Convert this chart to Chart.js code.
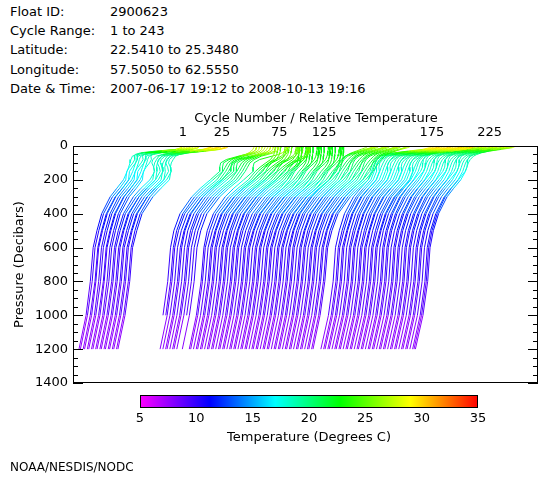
<!DOCTYPE html>
<html>
<head>
<meta charset="utf-8">
<script src="https://cdn.jsdelivr.net/npm/chart.js@4.4.1/dist/chart.umd.min.js"></script>
<style>
  body { margin: 0; background: #fff; font-family: 'DejaVu Sans', sans-serif; color: #000; }
  #page { position: relative; width: 560px; height: 480px; overflow: hidden; }
  .row { position: absolute; left: 10px; height: 16px; line-height: 16px; font-size: 13px; white-space: nowrap; }
  .row span { position: absolute; left: 100px; }
  #xtitle { position: absolute; top: 110px; left: 316px; transform: translateX(-50%); font-size: 13px; line-height: 16px; white-space: nowrap; }
  #footer { position: absolute; left: 10px; top: 459px; font-size: 12px; line-height: 16px; }
  canvas { position: absolute; left: 0; }
</style>
</head>
<body>
<div id="page">
  <div class="row" style="top:4px">Float ID:<span>2900623</span></div>
  <div class="row" style="top:23px">Cycle Range:<span>1 to 243</span></div>
  <div class="row" style="top:42px">Latitude:<span>22.5410 to 25.3480</span></div>
  <div class="row" style="top:62px">Longitude:<span>57.5050 to 62.5550</span></div>
  <div class="row" style="top:81px">Date &amp; Time:<span>2007-06-17 19:12 to 2008-10-13 19:16</span></div>
  <canvas id="profiles" width="560" height="480" style="top:0"></canvas>
  <div id="xtitle">Cycle Number / Relative Temperature</div>
  <canvas id="scalebar" width="560" height="70" style="top:385px"></canvas>
  <div id="footer">NOAA/NESDIS/NODC</div>
</div>
<script>
// pressure levels (dbar) of the profiles
const PRESSURE = [0, 10, 20, 30, 40, 50, 60, 80, 100, 125, 150, 200, 250, 300, 400, 500, 600, 800, 1000, 1200];

// typical temperature profiles (deg C), two per season
const T_JUN07_A = [29.0, 28.7, 27.5, 24.5, 21.0, 19.2, 18.3, 18.0, 17.8, 17.5, 17.2, 16.4, 15.0, 13.6, 11.8, 10.8, 10.0, 9.4, 8.5, 7.0];
const T_JUN07_B = [28.6, 28.4, 27.2, 23.0, 19.8, 18.6, 18.4, 18.5, 18.1, 17.4, 16.8, 16.6, 15.3, 13.8, 11.9, 10.9, 10.1, 9.5, 8.5, 7.0];
const T_JUL07_A = [30.2, 29.8, 28.4, 25.2, 21.8, 20.0, 19.2, 18.7, 18.3, 18.1, 18.2, 17.9, 16.1, 14.4, 12.1, 11.0, 10.1, 9.5, 8.5, 7.0];
const T_JUL07_B = [30.8, 30.3, 29.0, 26.0, 22.4, 20.3, 19.0, 18.2, 18.0, 18.4, 18.6, 17.6, 15.7, 14.1, 12.0, 10.9, 10.1, 9.5, 8.5, 7.0];
const T_OCT07_A = [27.6, 27.5, 27.4, 27.1, 26.4, 25.2, 23.8, 22.3, 21.4, 20.9, 20.4, 19.1, 16.9, 15.0, 12.3, 11.0, 10.2, 9.6, 8.6, 7.1];
const T_OCT07_B = [27.9, 27.8, 27.6, 27.3, 26.8, 26.0, 24.6, 22.0, 20.8, 20.6, 20.6, 18.6, 16.5, 14.7, 12.2, 10.9, 10.2, 9.6, 8.6, 7.1];
const T_DEC07_A = [25.0, 25.0, 24.9, 24.9, 24.8, 24.7, 24.5, 24.0, 23.0, 21.8, 20.8, 19.3, 17.1, 15.1, 12.4, 11.1, 10.2, 9.6, 8.6, 7.1];
const T_DEC07_B = [25.6, 25.6, 25.5, 25.5, 25.4, 25.2, 24.8, 23.6, 22.2, 21.4, 20.9, 18.9, 16.7, 14.9, 12.3, 11.0, 10.2, 9.6, 8.6, 7.1];
const T_FEB08_A = [22.4, 22.4, 22.4, 22.4, 22.4, 22.3, 22.3, 22.2, 22.0, 21.4, 20.6, 19.3, 17.2, 15.2, 12.5, 11.1, 10.2, 9.6, 8.6, 7.1];
const T_FEB08_B = [23.0, 23.0, 23.0, 22.9, 22.9, 22.8, 22.7, 22.4, 21.8, 20.8, 20.0, 19.0, 17.5, 15.4, 12.6, 11.2, 10.2, 9.6, 8.6, 7.1];
const T_APR08_A = [27.0, 26.5, 25.5, 24.5, 23.5, 22.8, 22.3, 21.6, 21.0, 20.4, 19.8, 18.8, 16.8, 15.0, 12.4, 11.1, 10.2, 9.6, 8.6, 7.1];
const T_APR08_B = [28.2, 27.4, 26.0, 24.8, 23.6, 22.6, 21.8, 21.0, 20.6, 20.3, 20.0, 18.5, 16.5, 14.8, 12.3, 11.0, 10.2, 9.6, 8.6, 7.1];
const T_JUN08_A = [30.5, 30.0, 28.5, 25.5, 22.5, 20.5, 19.5, 18.8, 18.4, 18.0, 17.7, 17.0, 15.4, 13.9, 12.0, 10.9, 10.1, 9.6, 8.6, 7.0];
const T_JUN08_B = [31.0, 30.4, 28.8, 26.0, 23.2, 21.0, 19.6, 18.6, 18.0, 17.8, 17.9, 17.2, 15.6, 14.0, 12.1, 11.0, 10.1, 9.6, 8.6, 7.0];
const T_AUG08_A = [28.0, 27.0, 24.5, 22.5, 21.0, 20.0, 19.3, 18.6, 18.2, 17.9, 17.6, 16.6, 15.1, 13.7, 11.9, 10.8, 10.1, 9.6, 8.6, 7.0];
const T_AUG08_B = [28.6, 27.8, 25.5, 23.0, 21.0, 19.6, 18.8, 18.4, 18.3, 18.2, 17.8, 16.4, 14.9, 13.6, 11.9, 10.8, 10.1, 9.6, 8.6, 7.0];

// first cycle of each season; odd cycles use the A profile, even cycles the B profile
const SEASON_START = [1, 16, 50, 81, 106, 141, 172, 206];
const SEASON_A = [T_JUN07_A, T_JUL07_A, T_OCT07_A, T_DEC07_A, T_FEB08_A, T_APR08_A, T_JUN08_A, T_AUG08_A];
const SEASON_B = [T_JUN07_B, T_JUL07_B, T_OCT07_B, T_DEC07_B, T_FEB08_B, T_APR08_B, T_JUN08_B, T_AUG08_B];

// cycles that have a profile in the plot
const CYCLES = [
  1, 2, 4, 5, 7, 8, 10, 11, 13, 14, 16, 17, 19, 20, 22, 23, 25, 26, 28, 29,
  56, 58, 59, 61, 63, 64, 66, 68, 69, 71, 73, 75,
  80, 81, 83, 85, 86, 88, 89, 91, 93, 94, 96, 97, 99, 101, 102, 104, 105, 107, 109, 110,
  112, 113, 115, 117, 118, 120, 121, 123, 125, 126, 128, 129, 131, 133, 134, 136, 137, 139,
  141, 142, 144, 145, 147, 149, 150, 152, 153, 155, 157, 158, 160, 161, 163, 165, 166, 168, 169,
  175, 177, 178, 180, 181, 183, 185, 186, 188, 189, 191, 193, 194, 196, 197, 199, 201, 202,
  204, 205, 207, 209, 210, 212, 213, 215, 217, 218, 220, 221, 223, 225, 226, 228, 229, 231,
  233, 234, 236, 237, 239, 241, 242, 243
];
// profiles that stop before 1200 dbar
const SHORT_CYCLES = [56, 58, 73];
const SHORT_MAX_P = [1000, 1000, 1000];

// top axis labels
const TICK_CYCLES = [1, 25, 75, 125, 175, 225];

// colour table of the temperature bar
const STOP_TEMPS = [5, 11.2, 17, 22.8, 29, 35];
const STOP_RGB = [[255, 0, 255], [0, 0, 255], [0, 255, 255], [0, 255, 0], [255, 255, 0], [255, 0, 0]];

const TEMP_SCALE = 3.4;   // cycles per degree
const TEMP_REF = 7;

function profileFor(c) {
  let k = 0;
  for (let i = 0; i < SEASON_START.length; i++) if (c >= SEASON_START[i]) k = i;
  return c % 2 === 1 ? SEASON_A[k] : SEASON_B[k];
}
function xOf(c, t) { return c + TEMP_SCALE * (t - TEMP_REF); }

function tempColor(t) {
  if (t <= STOP_TEMPS[0]) return 'rgb(' + STOP_RGB[0].join(',') + ')';
  for (let i = 1; i < STOP_TEMPS.length; i++) {
    if (t <= STOP_TEMPS[i]) {
      const f = (t - STOP_TEMPS[i - 1]) / (STOP_TEMPS[i] - STOP_TEMPS[i - 1]);
      const a = STOP_RGB[i - 1], b = STOP_RGB[i];
      return 'rgb(' + [0, 1, 2].map(j => Math.round(a[j] + (b[j] - a[j]) * f)).join(',') + ')';
    }
  }
  return 'rgb(' + STOP_RGB[STOP_RGB.length - 1].join(',') + ')';
}

const datasets = CYCLES.map(c => {
  const temps = profileFor(c);
  const s = SHORT_CYCLES.indexOf(c);
  const maxP = s >= 0 ? SHORT_MAX_P[s] : 1200;
  const data = [];
  PRESSURE.forEach((p, i) => {
    if (p <= maxP) data.push({ x: xOf(c, temps[i]), y: p, t: temps[i] });
  });
  return {
    label: 'Cycle ' + c,
    data: data,
    borderWidth: 1,
    pointRadius: 0,
    tension: 0,
    borderColor: tempColor(temps[0]),
    segment: {
      borderColor: ctx => tempColor((data[ctx.p0DataIndex].t + data[ctx.p1DataIndex].t) / 2)
    }
  };
});

// box and inward ticks
const framePlugin = {
  id: 'frame',
  afterDatasetsDraw(chart) {
    const { ctx, chartArea: a, scales: { y } } = chart;
    ctx.save();
    ctx.strokeStyle = '#000';
    ctx.lineWidth = 1;
    ctx.strokeRect(a.left + 0.5, a.top + 0.5, a.width - 1, a.height - 1);
    ctx.beginPath();
    for (let p = 0; p <= 1400; p += 50) {
      const py = Math.round(y.getPixelForValue(p)) + 0.5;
      const len = p % 200 === 0 ? 10 : 5;
      ctx.moveTo(a.left, py); ctx.lineTo(a.left + len, py);
      ctx.moveTo(a.right, py); ctx.lineTo(a.right - len, py);
    }
    ctx.stroke();
    ctx.restore();
  }
};

const font = { family: "'DejaVu Sans', sans-serif", size: 13 };

new Chart(document.getElementById('profiles'), {
  type: 'line',
  data: { datasets: datasets },
  options: {
    responsive: false,
    animation: false,
    events: [],
    layout: { padding: { top: 100, right: 22, bottom: 97, left: 0 } },
    plugins: { legend: { display: false }, tooltip: { enabled: false } },
    scales: {
      x: {
        type: 'linear',
        position: 'top',
        min: -3.3,
        max: 331.2,
        grid: { display: false, drawTicks: false },
        border: { display: false },
        afterBuildTicks: s => {
          s.ticks = TICK_CYCLES.map(c => ({ value: xOf(c, profileFor(c)[0]) }));
        },
        afterFit: s => { s.height = 46; },
        ticks: {
          autoSkip: false,
          maxRotation: 0,
          padding: 6,
          color: '#000',
          font: font,
          callback: (v, i) => TICK_CYCLES[i]
        }
      },
      y: {
        type: 'linear',
        reverse: true,
        min: 0,
        max: 1400,
        grid: { display: false, drawTicks: false },
        border: { display: false },
        afterFit: s => { s.width = 73; },
        ticks: { stepSize: 200, padding: 5, color: '#000', font: font, callback: v => String(v) },
        title: { display: true, text: 'Pressure (Decibars)', color: '#000', font: font, padding: { top: 12, bottom: 0 } }
      }
    }
  },
  plugins: [framePlugin]
});

// colour bar
const barPlugin = {
  id: 'bar',
  beforeDatasetsDraw(chart) {
    const { ctx, chartArea: a, scales: { x } } = chart;
    const g = ctx.createLinearGradient(a.left, 0, a.right, 0);
    STOP_TEMPS.forEach((t, i) => g.addColorStop((x.getPixelForValue(t) - a.left) / a.width, tempColor(t)));
    ctx.save();
    ctx.fillStyle = g;
    ctx.fillRect(a.left, a.top, a.width, a.height);
    ctx.strokeStyle = '#000';
    ctx.lineWidth = 1;
    ctx.strokeRect(a.left + 0.5, a.top + 0.5, a.width - 1, a.height - 1);
    ctx.restore();
  }
};

new Chart(document.getElementById('scalebar'), {
  type: 'line',
  data: { datasets: [] },
  options: {
    responsive: false,
    animation: false,
    events: [],
    layout: { padding: { top: 10, right: 82, bottom: 0, left: 140 } },
    plugins: { legend: { display: false }, tooltip: { enabled: false } },
    scales: {
      x: {
        type: 'linear',
        position: 'bottom',
        min: 5,
        max: 35,
        grid: { display: false, drawTicks: false },
        border: { display: false },
        afterFit: s => { s.height = 47; },
        ticks: { stepSize: 5, padding: 3, maxRotation: 0, color: '#000', font: font },
        title: { display: true, text: 'Temperature (Degrees C)', color: '#000', font: font, padding: { top: 4, bottom: 10 } }
      },
      y: { display: false, min: 0, max: 1 }
    }
  },
  plugins: [barPlugin]
});
</script>
</body>
</html>
